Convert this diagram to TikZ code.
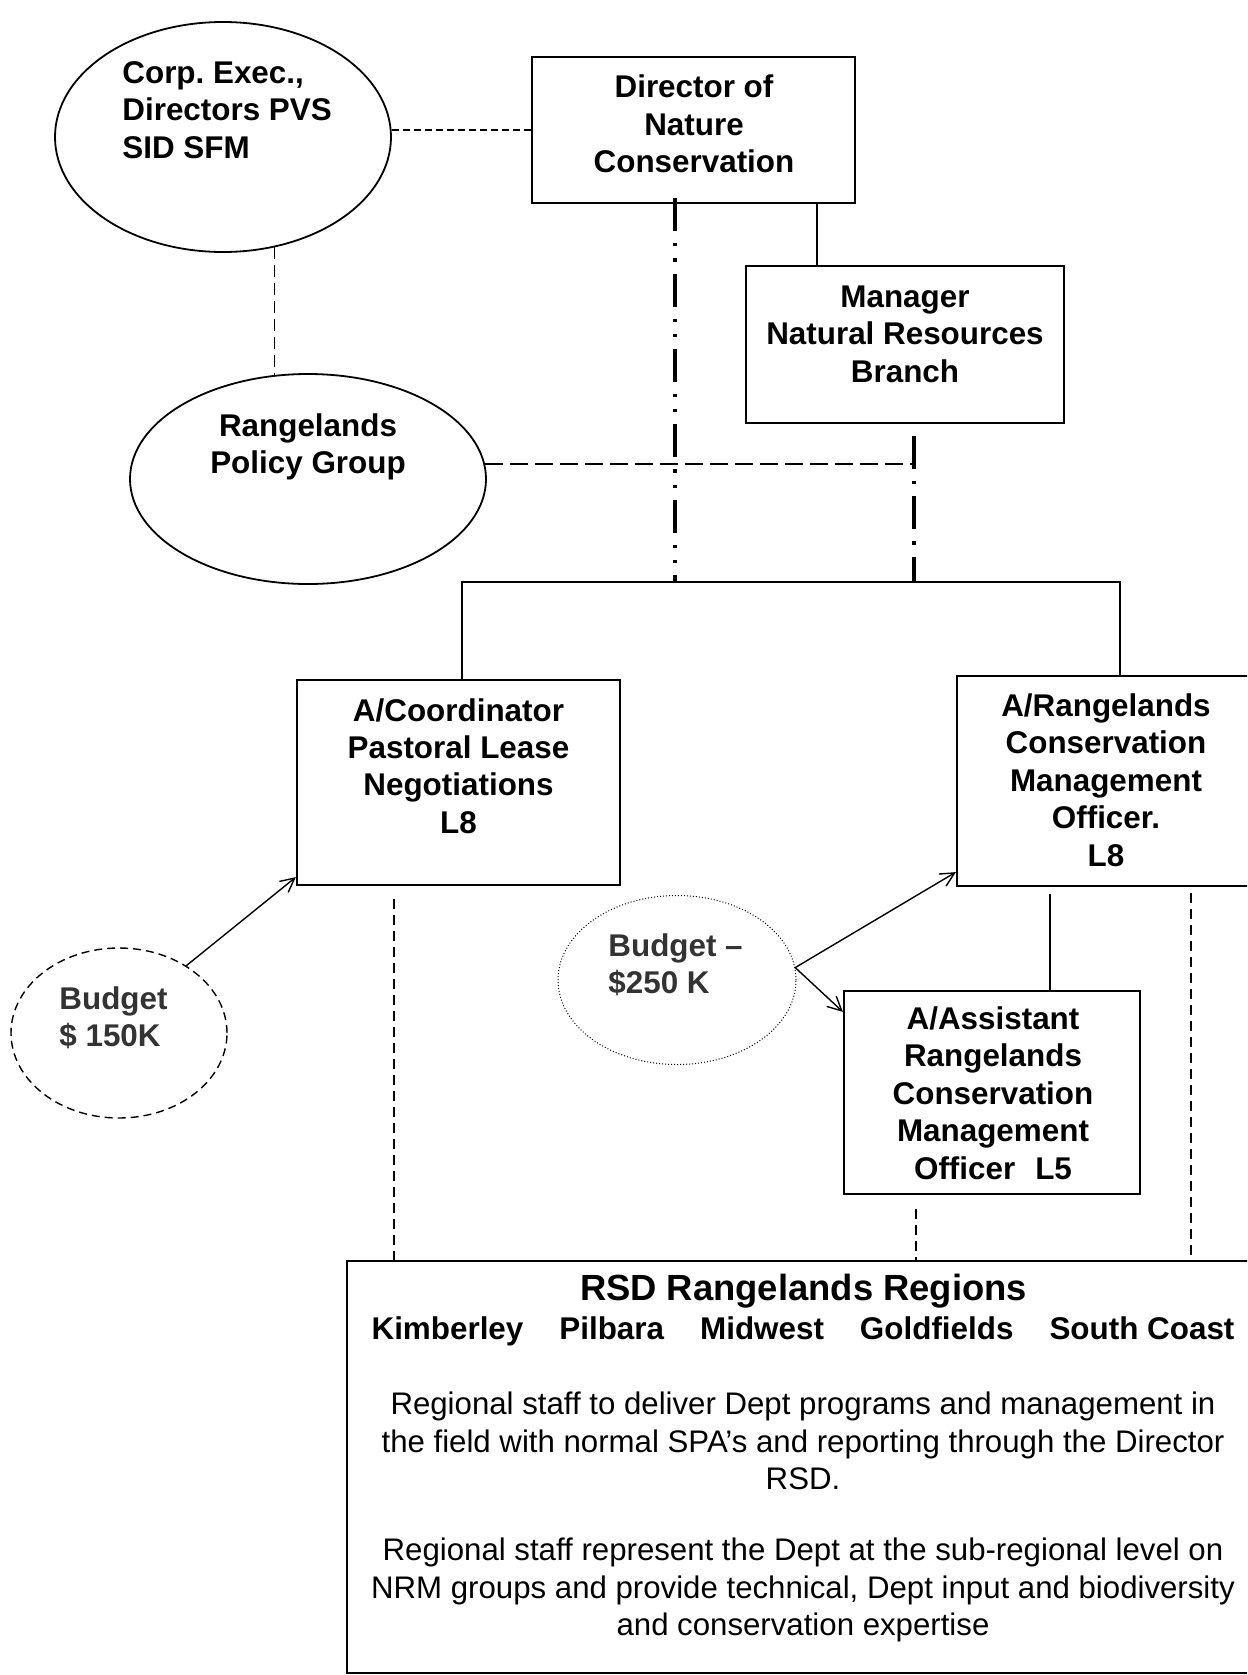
\documentclass[tikz,border=0pt]{standalone}
\usepackage{fontspec}
\setmainfont{Liberation Sans}
\usetikzlibrary{shapes.geometric,arrows.meta}
\frenchspacing
\tikzset{
  box/.style={draw, rectangle, line width=1.1pt, inner sep=0pt},
  ell/.style={draw, ellipse, line width=0.9pt, inner sep=0pt},
  bt/.style={align=center, inner sep=0pt, font=\bfseries\fontsize{15.7pt}{18.7pt}\selectfont},
  bgt/.style={align=left, inner sep=0pt, text=black!80, font=\bfseries\fontsize{15.7pt}{18.7pt}\selectfont},
  pt/.style={align=center, inner sep=0pt, font=\fontsize{15.6pt}{18.7pt}\selectfont},
  solidln/.style={line width=0.8pt},
  busln/.style={line width=1pt},
  dashA/.style={line width=1pt, dash pattern=on 3.5pt off 2pt},
  dashB/.style={line width=0.7pt, dash pattern=on 6pt off 3pt},
  dashC/.style={line width=1pt, dash pattern=on 9pt off 3.5pt},
  dashD/.style={line width=0.9pt, dash pattern=on 5pt off 3pt},
  ddot/.style={line width=1.6pt, dash pattern=on 16.5pt off 6pt on 1.6pt off 6pt on 1.6pt off 6pt},
  dsdot/.style={line width=1.6pt, dash pattern=on 16.5pt off 6pt on 1.6pt off 6pt},
  arr/.style={line width=0.7pt, -{Straight Barb[length=7pt,width=7pt]}}
}
\begin{document}
\begin{tikzpicture}[x=0.5pt,y=-0.5pt]
\useasboundingbox (0,0) rectangle (1247,1675);
\clip (0,0) rectangle (1247,1675);

% ellipses
\node[ell, minimum width=168pt, minimum height=115pt] (corp) at (223,137) {};
\node[bt, align=left, anchor=west] (corpT) at (122,110) {Corp. Exec.,\\Directors PVS\\SID SFM};
\node[ell, minimum width=178pt, minimum height=105pt] (policy) at (308,479) {};
\node[bt] (policyT) at (308,447) {Rangelands\\Policy Group};
\node[ell, line width=0.7pt, dash pattern=on 4pt off 2.5pt, minimum width=108pt, minimum height=85pt] (b150) at (119,1033) {};
\node[bgt, anchor=west] (b150T) at (59,1018) {Budget\\\$ 150K};
\node[ell, line width=0.5pt, densely dotted, minimum width=119pt, minimum height=84.5pt] (b250) at (677,980) {};
\node[bgt, anchor=west] (b250T) at (608,965) {Budget --\\\$250 K};

% boxes
\node[box, minimum width=161.5pt, minimum height=73pt] (dir) at (693.5,130) {};
\node[bt] (dirT) at (694,124) {Director of\\Nature\\Conservation};
\node[box, minimum width=159pt, minimum height=78.5pt] (mgr) at (905,344.5) {};
\node[bt] (mgrT) at (905,334) {Manager\\Natural Resources\\Branch};
\node[box, minimum width=161.5pt, minimum height=102.5pt] (coord) at (458.5,782.5) {};
\node[bt] (coordT) at (458.5,766) {A/Coordinator\\Pastoral Lease\\Negotiations\\L8};
\node[box, minimum width=149pt, minimum height=105pt] (arcm) at (1106,781) {};
\node[bt] (arcmT) at (1106,780) {A/Rangelands\\Conservation\\Management\\Officer.\\L8};
\node[box, minimum width=148pt, minimum height=101.5pt] (asst) at (992,1092.5) {};
\node[bt] (asstT) at (993,1093) {A/Assistant\\Rangelands\\Conservation\\Management\\Officer\hspace{10pt}L5};
\node[box, minimum width=456.5pt, minimum height=206pt] (rsd) at (803.5,1467) {};
\node[inner sep=0pt, font=\bfseries\fontsize{18.2pt}{21pt}\selectfont] (rsdT) at (803.5,1291) {RSD Rangelands Regions};
\node[bt] (regT) at (803,1331) {Kimberley\hspace{18pt}Pilbara\hspace{18pt}Midwest\hspace{18pt}Goldfields\hspace{18pt}South Coast};
\node[pt] (p1) at (803,1441) {Regional staff to deliver Dept programs and management in\\the field with normal SPA’s and reporting through the Director\\RSD.};
\node[pt] (p2) at (803,1590) {Regional staff represent the Dept at the sub-regional level on\\NRM groups and provide technical, Dept input and biodiversity\\and conservation expertise};

% helper coordinates
\coordinate (busL) at (462,582);
\coordinate (busR) at (1120,582);
\coordinate (xa) at (817,0);
\coordinate (xj1) at (675,0);
\coordinate (xj2) at (914,0);
\coordinate (xb) at (1050,0);
\coordinate (xc) at (394,0);
\coordinate (xd) at (1191,0);
\coordinate (xe) at (916,0);

% connectors
\draw[dashA] (dir.west) -- (dir.west -| corp.east);
\draw[dashB] (corp.-65) -- (corp.-65 |- policy.108);
\draw[solidln] (dir.south -| xa) -- (mgr.north -| xa);
\draw[busln] (busL |- coord.north) -- (busL) -- (busR) -- (busR |- arcm.north);
\draw[ddot] ([yshift=3pt]dir.south -| xj1) -- (busL -| xj1);
\draw[dsdot] ([yshift=-6pt]mgr.south -| xj2) -- (busL -| xj2);
\draw[dashC] (policy.5) -- (policy.5 -| xj2);

\draw[arr] (b150.45) -- ([yshift=4.5pt]coord.south west);
\draw[arr] (b250.6) -- ([yshift=7.5pt]arcm.south west);
\draw[arr] (b250.6) -- ([yshift=-11pt]asst.north west);

\draw[solidln] ([yshift=-3.5pt]arcm.south -| xb) -- (asst.north -| xb);
\draw[dashD] ([yshift=-6.5pt]coord.south -| xc) -- (rsd.north -| xc);
\draw[dashD] ([yshift=-3pt]arcm.south -| xd) -- (rsd.north -| xd);
\draw[dashD] ([yshift=-7pt]asst.south -| xe) -- (rsd.north -| xe);
\end{tikzpicture}
\end{document}
